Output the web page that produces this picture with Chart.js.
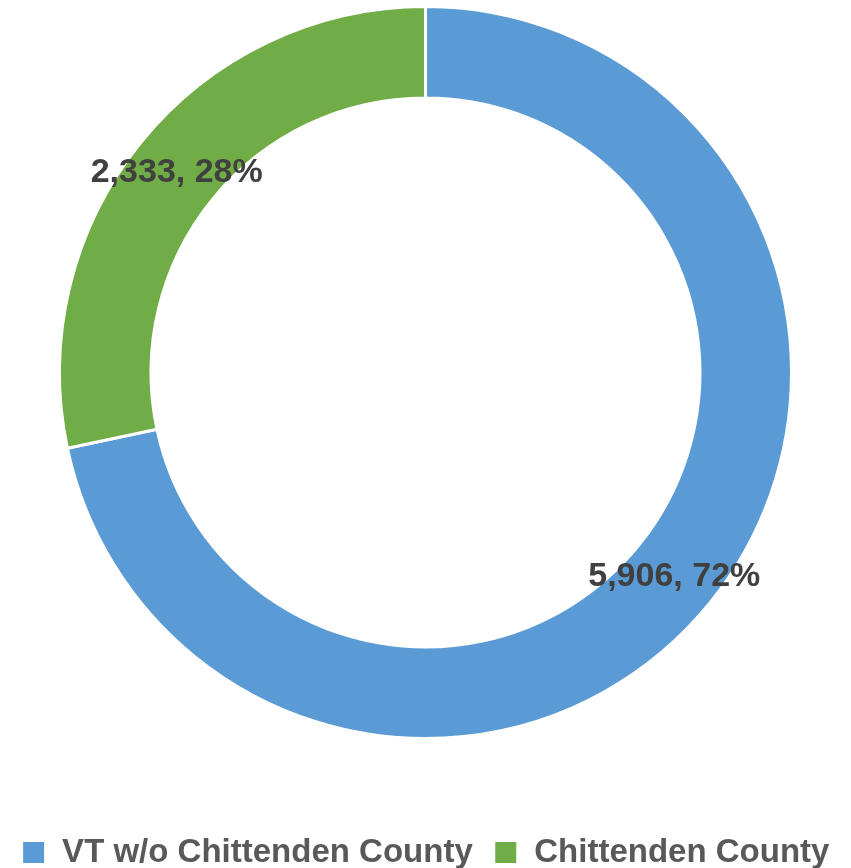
<!DOCTYPE html>
<html>
<head>
<meta charset="utf-8">
<script src="https://cdn.jsdelivr.net/npm/chart.js@4"></script>
<style>
  html, body { margin: 0; padding: 0; background: #fff; overflow: hidden; }
  #wrap { width: 851px; height: 879px; position: relative; }
</style>
</head>
<body>
<div id="wrap"><canvas id="myChart"></canvas></div>
<script>
// datos del grafico
const categorias = ["VT w/o Chittenden County", "Chittenden County"];
const valores = [5906, 2333];
const colores = ["#5B9BD5", "#70AD47"];

const fuente = "'Liberation Sans', Arial, sans-serif";

// etiquetas "valor, porcentaje" en el centro de cada arco
const etiquetas = {
  id: "etiquetas",
  afterDatasetsDraw(chart) {
    const ctx = chart.ctx;
    const total = valores.reduce((a, b) => a + b, 0);
    const meta = chart.getDatasetMeta(0);
    ctx.save();
    ctx.font = "bold 34px " + fuente;
    ctx.fillStyle = "#404040";
    ctx.textAlign = "center";
    ctx.textBaseline = "middle";
    meta.data.forEach((arc, i) => {
      const { x, y } = arc.tooltipPosition();
      const pct = Math.round((valores[i] / total) * 100);
      ctx.fillText(valores[i].toLocaleString("en-US") + ", " + pct + "%", x, y + 2);
    });
    ctx.restore();
  },
};

const canvas = document.querySelector("#myChart");
new Chart(canvas, {
  type: "doughnut",
  data: {
    labels: categorias,
    datasets: [
      {
        data: valores,
        backgroundColor: colores,
        borderColor: "#ffffff",
        borderWidth: 3,
        hoverOffset: 0,
        radius: 366,
      },
    ],
  },
  options: {
    responsive: true,
    maintainAspectRatio: false,
    animation: false,
    cutout: "75%",
    layout: { padding: 0 },
    plugins: {
      tooltip: { enabled: false },
      legend: {
        position: "bottom",
        title: {
          // titulo vacio solo para bajar la leyenda
          display: true,
          text: "",
          font: { size: 10, lineHeight: 1.2 },
          padding: { top: 0, bottom: 58 },
        },
        labels: {
          color: "#595959",
          font: { family: fuente, size: 33, weight: "bold" },
          boxWidth: 24,
          boxHeight: 24,
          padding: 21,
        },
      },
    },
  },
  plugins: [etiquetas],
});
</script>
</body>
</html>
